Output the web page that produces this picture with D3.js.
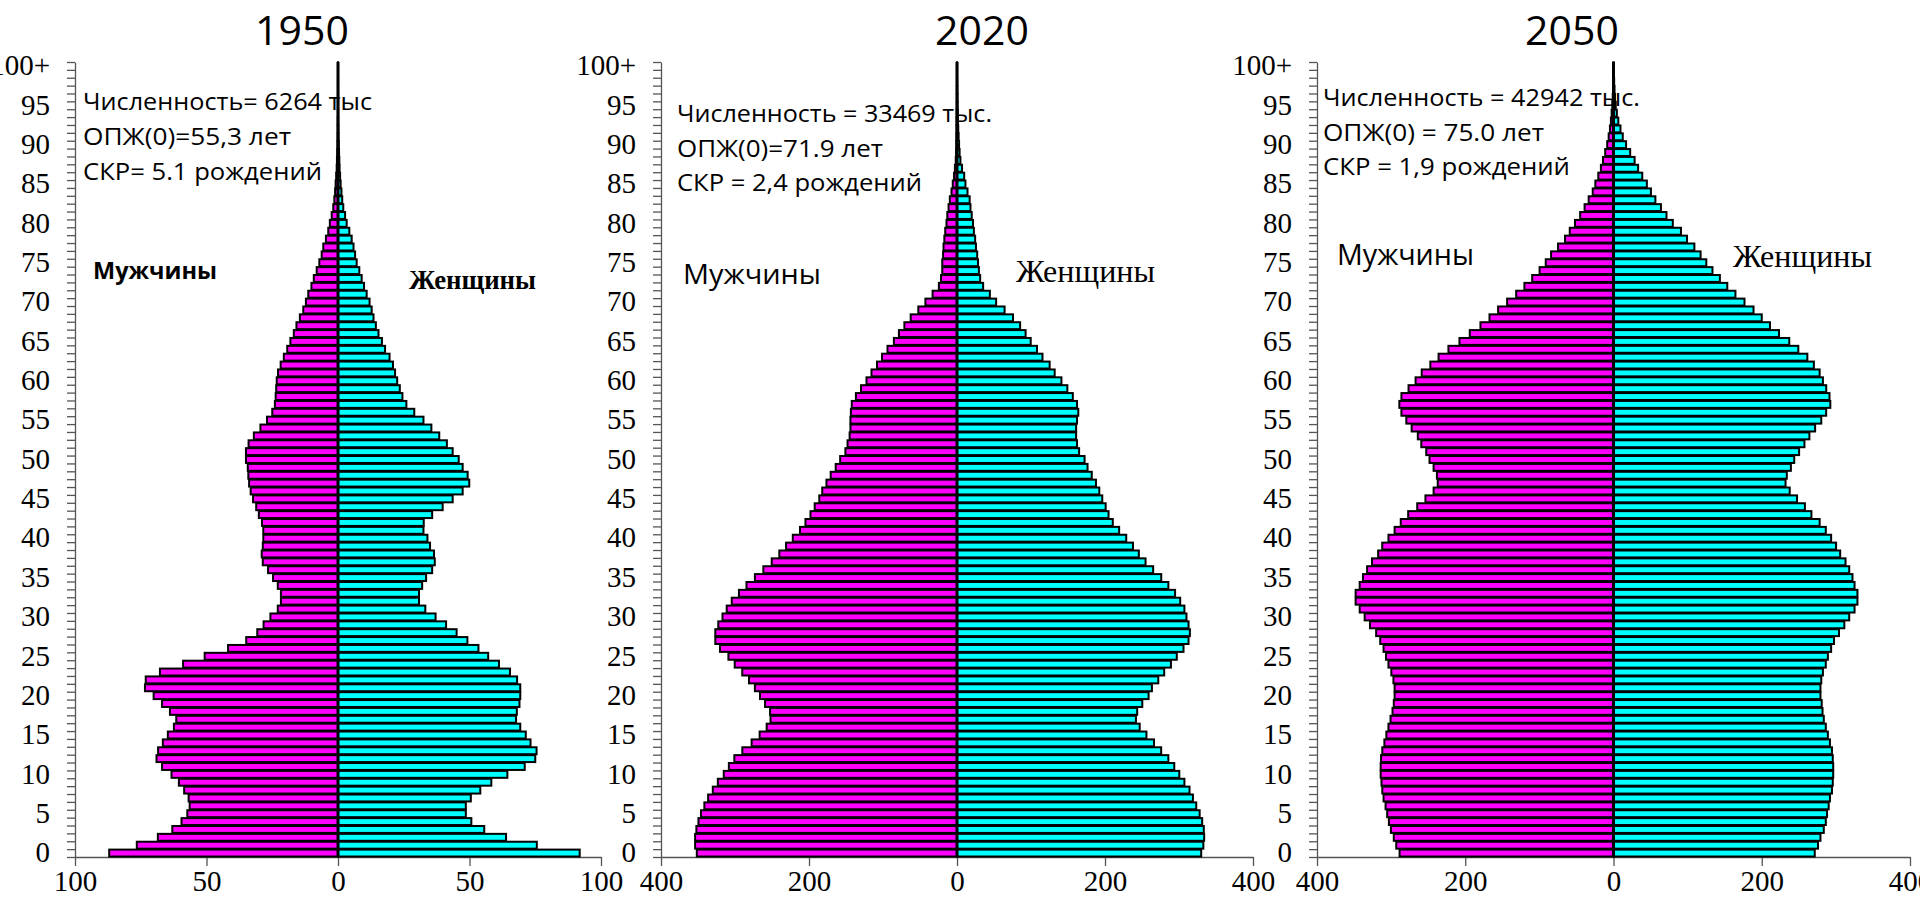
<!DOCTYPE html>
<html><head><meta charset="utf-8">
<script src="https://cdn.jsdelivr.net/npm/d3@7"></script>
<style>
html,body{margin:0;padding:0;background:#fff;}
svg{display:block;}
</style></head>
<body>
<svg id="chart" width="1920" height="905"></svg>
<script>
// ---------- DATA (thousands of people, ages 0..100+) ----------
const ages = d3.range(0, 101);
const ageLabelValues = d3.range(0, 101, 5);
const ageLabelText = ageLabelValues.map(a => a === 100 ? "100+" : String(a));
const years = ["1950", "2020", "2050"];
const xTicksSmall = [-100, -50, 0, 50, 100];
const xTicksLarge = [-400, -200, 0, 200, 400];

const men1950 = [87,76.5,68.5,63,59.5,57.3,56.4,56.8,58.5,60.5,63.3,66.9,69,68.4,66.6,64.7,62.4,61.5,63.9,66.9,
70.1,73.4,73.1,67.7,58.9,50.7,41.8,34.9,30.7,28.3,25.7,22.9,21.7,21.7,22.9,24.7,26.6,28.6,29,28.6,
28.4,28.4,28.9,30.1,31.1,32.3,33.2,33.8,34.1,34.3,35,35,34,32,29.5,27,25,24,23.7,23.5,
23.3,22.8,21.8,20.6,19.3,18.1,16.8,15.8,14.5,13.2,12.2,11.3,10.1,9.2,8.1,7.1,6.2,5.6,4.6,3.7,
3.1,2.4,1.8,1.4,1.1,0.9,0.7,0.5,0.4,0.3,0.2,0.15,0.1,0.1,0.05,0.05,0.03,0.02,0.02,0.01,0.01];
const women1950 = [91.9,75.6,63.9,55.6,50.7,48.6,48.6,50.5,54.1,58.3,64.4,71,75,75.5,73.2,71.4,69.3,67.7,68,69,
69.3,69.3,68.1,65.4,61.2,57.1,53.4,49.2,45.1,41.1,37.1,33.2,30.8,30.8,32,33.5,35.8,36.8,36.5,35,
34,32.5,32.6,35.8,39.8,43.6,47.4,49.9,49.3,47.4,45.9,43.6,41.4,38.5,35.5,32.5,29,26,24.5,23.5,
22.5,21.7,20.9,19.6,17.9,16.7,15.4,14.4,13.5,12.8,12,10.9,9.9,9,8.1,7.1,6.5,5.9,5.2,4.3,
3.3,2.7,2,1.6,1.3,1,0.8,0.6,0.5,0.4,0.3,0.2,0.15,0.1,0.1,0.05,0.05,0.04,0.03,0.02,0.02];

const men2020 = [351.6,353.9,353.9,352.2,349.4,346,341.4,336.3,330,323.2,315.2,308.3,300.9,290.1,277.5,266.7,257.2,252,252.6,259.4,
266.2,273.1,281.1,290.2,300.4,308.9,320.3,326.6,326.6,322.6,316.9,311.2,304.4,294.7,284.5,273.1,261.7,250.4,240.1,231,
221.9,212.2,204.8,198,192.3,186.1,182.1,176.4,170.7,163.9,157.9,150.8,147.9,145.1,144,144,143.4,142.2,136.6,129.7,
122.3,115.5,108.1,101.3,93.9,85.3,78.5,71.1,62.6,52.3,42.7,33,24.5,21.6,19.9,19.9,18.8,18.2,17.1,15.9,
14.2,13.1,11.4,9.7,7.4,5.7,4,2.8,1.7,1.2,1,0.8,0.6,0.5,0.4,0.3,0.2,0.2,0.1,0.1,0.1];
const women2020 = [330,332.9,334,333.5,331.3,327.9,323.3,318.8,314.2,307.3,300.4,293.6,285.6,275.9,266.2,256,246.9,241.8,243.5,250.4,
258.9,263.4,272,280,289.1,297,306.1,312.9,314.7,312.9,310.1,307.3,301.6,294.7,285.6,276,265.1,254.8,245.7,237.8,
228.7,219.1,210.5,204.8,200.9,196.3,192.3,187.8,182.1,176.4,172.4,165,162.2,161,161,162.2,163.9,162.2,156.5,149.1,
141.1,132,125.2,115.5,108.1,99.6,92.7,85.3,75.7,64.3,52.9,44.4,35.3,31.3,29.6,28.4,27.3,25.6,24.5,22.8,
21.6,19.9,18.2,17.1,14.2,11.4,9.7,6.8,4.6,3.5,2.8,2.2,1.7,1.3,1,0.8,0.6,0.4,0.3,0.2,0.2];

const men2050 = [288.6,293.1,296.4,300.3,303,305.3,307.5,310.2,311.9,313,314.1,314.1,313.6,311.9,309.1,306.4,303.6,300.8,298.1,296.4,
295.3,295.3,296.9,299.7,303.6,306.9,310.2,314.7,320.2,328.5,335.7,342.4,347.9,347.9,342.4,338,332.4,325.8,317.5,312,
303.6,295.3,287,277,264.8,253.7,242.7,237.1,238.2,242.7,248.2,252.6,259.3,264,272.3,279.5,286.1,288.9,286.1,276.5,
267,258.7,247.1,236,222.7,207.8,193.9,179.5,167.3,155.7,143.5,131.3,120.2,109.7,99.7,91.4,84.2,74.8,65.4,59,
52,45,39,33.5,28,24.5,20.5,17,14.2,11.2,8.5,6.5,4.8,3.5,2.5,1.6,1,0.6,0.4,0.2,0.2];
const women2050 = [271.5,275.9,279.2,283.7,286.4,288.1,290.3,292,294.7,295.8,296.4,296.4,295.8,294.7,292,289.2,286.4,283.7,282,280.9,
279.2,279.2,280.3,282.5,286.4,289.2,293.6,297.5,304.2,311.4,318,325.2,329.1,329.1,325.2,322.4,318,313,305.8,300.3,
293.6,286.4,278.1,267,258.2,247.6,237.7,232.1,233.8,239.3,243.8,250.4,257.6,264.3,272,280.3,286.9,292.5,291.4,287,
282.5,278.1,270.3,261.5,249.3,237.1,223.3,211.1,200,188.9,176.7,164.5,153.5,143.5,133.5,125.2,117.5,109.1,99.2,91,
80,71.5,64,56.5,50.5,45,38.8,33.2,28.5,22.5,17,12.5,9.4,6.5,4.5,3,2,1.4,0.9,0.6,0.4];

const statText1950 = ["Численность= 6264 тыс", "ОПЖ(0)=55,3 лет", "СКР= 5.1 рождений"];
const statText2020 = ["Численность = 33469 тыс.", "ОПЖ(0)=71.9 лет", "СКР = 2,4 рождений"];
const statText2050 = ["Численность = 42942 тыс.", "ОПЖ(0) = 75.0 лет", "СКР = 1,9 рождений"];
const menLabel = "Мужчины";
const womenLabel = "Женщины";

// ---------- LAYOUT ----------
const panels = [
  {year: years[0], men: men1950, women: women1950, max: 100, ticks: xTicksSmall, x0: 75, x1: 601,
   titleX: 302, stats: statText1950, statX: 83, statY: [110, 145, 180], statW: [289, 208, 239],
   menX: 93, menY: 279, menW: 124, menStyle: {family: "'Open Sans', sans-serif", size: 24, weight: 700},
   womenX: 409, womenY: 289, womenW: 127, womenStyle: {size: 27, weight: 700}},
  {year: years[1], men: men2020, women: women2020, max: 400, ticks: xTicksLarge, x0: 661, x1: 1253,
   titleX: 982, stats: statText2020, statX: 677, statY: [122, 157, 191], statW: [315, 206, 245],
   menX: 683, menY: 284, menW: 138, menStyle: {family: "'Open Sans', sans-serif", size: 28, weight: 400},
   womenX: 1016, womenY: 282, womenW: 139, womenStyle: {size: 32, weight: 400}},
  {year: years[2], men: men2050, women: women2050, max: 400, ticks: xTicksLarge, x0: 1317, x1: 1910,
   titleX: 1572, stats: statText2050, statX: 1323, statY: [106, 141, 175], statW: [317, 221, 247],
   menX: 1337, menY: 265, menW: 137, menStyle: {family: "'Open Sans', sans-serif", size: 29, weight: 400},
   womenX: 1733, womenY: 267, womenW: 139, womenStyle: {size: 32, weight: 400}}
];

const yTop = 62, yBottom = 857;
const serif = "'Liberation Serif', 'Times New Roman', serif";
const sans = "'Open Sans', 'Noto Sans', sans-serif";

const svg = d3.select("#chart");

const yBand = d3.scaleBand().domain(ages).range([yBottom, yTop]).paddingInner(0.12).paddingOuter(0.06);
const yLin = d3.scaleLinear().domain([-0.5, 100.5]).range([yBottom, yTop]);

panels.forEach(p => {
  const g = svg.append("g");
  const x = d3.scaleLinear().domain([-p.max, p.max]).range([p.x0, p.x1]);

  // title
  g.append("text").attr("x", p.titleX).attr("y", 45).attr("text-anchor", "middle")
    .attr("font-family", sans).attr("font-size", 41).attr("fill", "#000").text(p.year);

  // stats
  p.stats.forEach((s, i) => {
    g.append("text").attr("x", p.statX).attr("y", p.statY[i])
      .attr("font-family", sans).attr("font-size", 24).attr("fill", "#000")
      .attr("textLength", p.statW[i]).attr("lengthAdjust", "spacingAndGlyphs").text(s);
  });
  g.append("text").attr("x", p.menX).attr("y", p.menY)
    .attr("font-family", p.menStyle.family).attr("font-size", p.menStyle.size).attr("font-weight", p.menStyle.weight)
    .attr("textLength", p.menW).attr("lengthAdjust", "spacingAndGlyphs").text(menLabel);
  g.append("text").attr("x", p.womenX).attr("y", p.womenY)
    .attr("font-family", serif).attr("font-size", p.womenStyle.size).attr("font-weight", p.womenStyle.weight)
    .attr("textLength", p.womenW).attr("lengthAdjust", "spacingAndGlyphs").text(womenLabel);

  // y axis: tick comb
  const yAxisG = g.append("g").attr("transform", `translate(${p.x0},0)`)
    .call(d3.axisLeft(yLin).tickValues(d3.range(-0.5, 101, 1)).tickFormat("").tickSize(8).tickSizeOuter(0));
  yAxisG.selectAll("path,line").attr("stroke", "#555").attr("stroke-width", 1.3);

  // y labels
  const yLab = g.append("g").attr("transform", `translate(${p.x0},0)`)
    .call(d3.axisLeft(yBand).tickValues(ageLabelValues).tickSize(0).tickPadding(25)
      .tickFormat((d, i) => ageLabelText[i]));
  yLab.select(".domain").remove();
  yLab.selectAll("text").attr("font-family", serif).attr("font-size", 29).attr("fill", "#000");

  // x axis
  const xAxisG = g.append("g").attr("transform", `translate(0,${yBottom})`)
    .call(d3.axisBottom(x).tickValues(p.ticks).tickSize(9).tickSizeOuter(0).tickPadding(4)
      .tickFormat(d => Math.abs(d)));
  xAxisG.selectAll("path,line").attr("stroke", "#555").attr("stroke-width", 1.3);
  xAxisG.selectAll("text").attr("font-family", serif).attr("font-size", 29).attr("fill", "#000");

  // bars
  g.append("g").selectAll("rect.m").data(ages).join("rect")
    .attr("x", a => x(-p.men[a])).attr("width", a => x(0) - x(-p.men[a]))
    .attr("y", a => yBand(a)).attr("height", yBand.bandwidth())
    .attr("fill", "#FF00FF").attr("stroke", "#000").attr("stroke-width", 2);
  g.append("g").selectAll("rect.w").data(ages).join("rect")
    .attr("x", x(0)).attr("width", a => x(p.women[a]) - x(0))
    .attr("y", a => yBand(a)).attr("height", yBand.bandwidth())
    .attr("fill", "#00FFFF").attr("stroke", "#000").attr("stroke-width", 2);

  // centre line
  g.append("line").attr("x1", x(0)).attr("x2", x(0)).attr("y1", yTop).attr("y2", yBottom)
    .attr("stroke", "#000").attr("stroke-width", 3);
});
</script>
</body></html>
